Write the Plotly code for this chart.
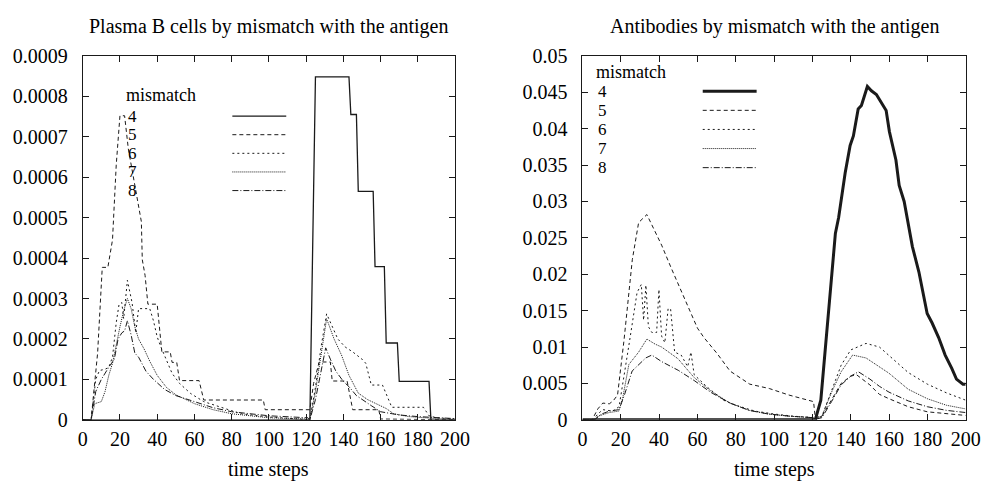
import plotly.graph_objects as go

# ---------------- data ----------------
x_ticks = [0, 20, 40, 60, 80, 100, 120, 140, 160, 180, 200]
left_y_ticks = [0, 0.0001, 0.0002, 0.0003, 0.0004, 0.0005, 0.0006, 0.0007, 0.0008, 0.0009]
left_y_labels = ["0", "0.0001", "0.0002", "0.0003", "0.0004", "0.0005", "0.0006", "0.0007", "0.0008", "0.0009"]
right_y_ticks = [0, 0.005, 0.01, 0.015, 0.02, 0.025, 0.03, 0.035, 0.04, 0.045, 0.05]
right_y_labels = ["0", "0.005", "0.01", "0.015", "0.02", "0.025", "0.03", "0.035", "0.04", "0.045", "0.05"]
mismatch_levels = ["4", "5", "6", "7", "8"]

left_title = "Plasma B cells by mismatch with the antigen"
right_title = "Antibodies by mismatch with the antigen"
x_label = "time steps"

# Plasma B cells (values x 1e-4)
plasma_t4 = [0, 122, 125, 143, 144, 147, 148, 156, 157, 162, 163, 169, 170, 186, 187, 200]
plasma_v4 = [0, 0, 8.48, 8.48, 7.55, 7.55, 5.65, 5.65, 3.79, 3.79, 1.9, 1.9, 0.95, 0.95, 0, 0]

plasma_t5 = [0, 4.5, 8, 10.5, 13.5, 16, 18, 20, 22.5, 24.5, 31.5, 32, 33.5, 35, 40, 41.5, 42.5, 47, 48, 50.5,
             52, 62.5, 65, 97, 98, 122, 124, 127, 133, 134, 142, 145, 159, 160, 200]
plasma_v5 = [0, 0, 1.65, 3.77, 3.77, 4.45, 6.3, 7.52, 7.52, 6.7, 4.9, 3.96, 3.57, 2.86, 2.86, 2.15, 1.68, 1.68, 1.42, 1.42,
             0.97, 0.97, 0.49, 0.49, 0.25, 0.25, 0.9, 1.43, 1.43, 0.96, 0.96, 0.25, 0.25, 0.02, 0]

plasma_t6 = [0, 4.5, 7, 9, 12, 14, 16, 18, 19.5, 21, 22, 24, 26.5, 28.5, 30, 36, 38, 40, 42, 45, 48, 52, 58, 65, 75, 85,
             100, 121, 122, 125, 128, 131, 134, 137, 141, 145, 150, 152, 155, 161, 166, 183, 186, 190, 200]
plasma_v6 = [0, 0, 1.0, 1.22, 1.25, 1.3, 1.55, 2.4, 2.85, 2.9, 2.5, 3.45, 2.9, 2.15, 2.75, 2.75, 2.45, 2.05, 1.8, 1.45,
             1.15, 0.9, 0.65, 0.45, 0.3, 0.15, 0.07, 0.02, 0, 0.8, 1.8, 2.62, 2.3, 2.0, 1.8, 1.68, 1.5, 1.4, 0.86, 0.86,
             0.31, 0.31, 0.1, 0.05, 0.02]

plasma_t7 = [0, 4.5, 6.5, 10, 12, 14, 16, 18, 20, 22, 24, 26, 28, 30, 33, 36, 40, 45, 50, 60, 70, 80, 100, 121, 122,
             125, 128, 131, 135, 139, 143, 148, 153, 158, 163, 167, 175, 190, 200]
plasma_v7 = [0, 0, 0.4, 0.45, 0.7, 1.1, 1.4, 1.9, 2.3, 2.7, 3.0, 2.75, 2.3, 2.0, 1.75, 1.45, 1.1, 0.8, 0.62, 0.4, 0.25,
             0.15, 0.05, 0.02, 0, 0.7, 1.6, 2.5, 2.0, 1.6, 1.1, 0.66, 0.5, 0.39, 0.28, 0.15, 0.08, 0.03, 0.01]

plasma_t8 = [0, 4.5, 7, 10, 14, 17, 19, 21, 22.5, 24, 26, 28, 30, 34, 38, 44, 50, 60, 70, 80, 100, 121, 122, 125, 128,
             130.5, 133, 136, 140, 143, 147, 150, 155, 160, 170, 180, 200]
plasma_v8 = [0, 0, 0.7, 1.0, 1.3, 1.5, 2.0, 2.15, 2.2, 2.45, 2.1, 1.65, 1.55, 1.2, 1.0, 0.75, 0.6, 0.45, 0.3, 0.2, 0.1,
             0.05, 0, 0.5, 1.2, 1.78, 1.5, 1.2, 0.95, 0.82, 0.6, 0.5, 0.35, 0.2, 0.12, 0.08, 0.03]

# Antibodies (values x 1e-3)
anti_t4 = [0, 121.5, 124.4, 127.8, 129.5, 132, 133.7, 136.3, 137.1, 139.7, 141.4, 143.9, 145.6, 148.7, 150.8, 153.4,
           155.9, 158.5, 160.2, 163.6, 165.3, 167.9, 172.2, 175.6, 179.9, 182.5, 185.9, 189.3, 192.7, 195.2, 198.6, 200]
anti_v4 = [0, 0, 2.7, 13.3, 17.7, 25.6, 27.8, 33.0, 33.9, 37.7, 39.0, 42.7, 43.2, 45.8, 45.2, 44.7,
           43.6, 42.5, 39.6, 35.7, 32.2, 30.0, 23.8, 20.3, 14.6, 13.3, 11.3, 8.9, 7.1, 5.6, 4.9, 4.9]

anti_t5 = [0, 5, 8, 10.6, 14, 16, 18.3, 21.7, 26, 29.3, 33.6, 36.2, 41.3, 46.4, 53.2, 60, 63.4, 70.3, 77, 87.3, 97.5,
           107.8, 120.6, 121.5, 125, 130, 135, 140, 143, 146, 150, 153, 155, 160, 170, 180, 190, 200]
anti_v5 = [0, 0, 1.5, 2.3, 2.2, 2.6, 3.4, 11.0, 22.0, 27.1, 28.2, 26.7, 24.0, 20.8, 16.8, 12.6, 11.3, 9.1, 6.7, 4.9, 4.3,
           3.4, 2.5, 0.3, 0.5, 2.8, 5.0, 6.0, 6.2, 5.6, 4.8, 4.0, 3.5, 2.9, 1.8, 1.1, 0.8, 0.6]

anti_t6 = [0, 5.5, 8, 10.6, 15.7, 19.1, 24.2, 28.5, 30.7, 31.9, 33.1, 34.4, 36.2, 38.7, 39.9, 41.3, 43, 44.7, 46, 48.1,
           51.5, 54.9, 56.6, 58.3, 65.1, 73.6, 80, 90, 100, 110, 121, 122, 125, 130, 135, 140, 148, 155, 160, 170, 180,
           190, 200]
anti_v6 = [0, 0, 0.8, 1.4, 1.2, 1.8, 10.2, 17.5, 18.6, 13.7, 18.5, 12.8, 12.0, 12.0, 17.9, 11.5, 10.6, 15.3, 15.2, 9.3,
           8.9, 7.3, 9.3, 6.2, 4.5, 2.7, 2.0, 1.2, 0.8, 0.5, 0.3, 0.1, 0.5, 4.0, 7.5, 9.6, 10.5, 10.0, 8.8, 6.5, 4.9,
           3.7, 2.7]

anti_t7 = [0, 6, 8, 14, 19, 21, 24.2, 29.3, 33.6, 37.9, 41.3, 49.8, 58.3, 66.8, 77, 87, 97, 108, 120, 122, 125, 130,
           135, 141, 148, 155, 160, 170, 180, 190, 200]
anti_v7 = [0, 0, 0.5, 1.0, 1.2, 3.0, 7.6, 9.3, 11.1, 10.4, 10.0, 8.4, 5.8, 4.0, 2.3, 1.3, 0.8, 0.5, 0.3, 0.1, 0.5, 3.8,
           6.6, 8.9, 8.5, 7.3, 6.4, 4.2, 2.9, 2.0, 1.5]

anti_t8 = [0, 6.3, 10, 14, 19.1, 22, 25.9, 29.3, 33, 36.2, 41.3, 50, 58.3, 66.8, 77, 87, 97, 108, 120, 122, 125, 130,
           135, 140, 144, 150, 155, 160, 170, 180, 190, 200]
anti_v8 = [0, 0, 0.8, 1.2, 1.4, 3.5, 6.7, 7.6, 8.5, 8.9, 8.0, 6.8, 5.4, 3.8, 2.3, 1.3, 0.8, 0.5, 0.3, 0.1, 0.3, 2.5,
           4.8, 6.0, 6.6, 5.6, 4.6, 3.8, 2.6, 1.8, 1.3, 1.0]

# ---------------- styling ----------------
W, H = 998, 491
FONT = "Liberation Serif"
FS = 20
FS_KEY = 17
INK = "#1a1a1a"
dashes = ["solid", "4px,3px", "2px,3px", "1px,1px", "6px,2px,1px,2px"]
left_widths = [1.3, 1, 1, 1, 1]
right_widths = [3, 1, 1, 1, 1]

# plot frames in pixels
LX0, LX1 = 79.3, 459.3
RX0, RX1 = 589.3, 980.3
YT, YB = 47, 428


def px(x):
    return x / W


def py(y):
    return 1 - y / H


fig = go.Figure()

plasma_t = [plasma_t4, plasma_t5, plasma_t6, plasma_t7, plasma_t8]
plasma_v = [plasma_v4, plasma_v5, plasma_v6, plasma_v7, plasma_v8]
anti_t = [anti_t4, anti_t5, anti_t6, anti_t7, anti_t8]
anti_v = [anti_v4, anti_v5, anti_v6, anti_v7, anti_v8]

for i, m in enumerate(mismatch_levels):
    fig.add_trace(go.Scatter(x=plasma_t[i], y=[v * 1e-4 for v in plasma_v[i]], mode="lines",
                             line=dict(color=INK, width=left_widths[i], dash=dashes[i]),
                             name=m, showlegend=False, xaxis="x", yaxis="y"))
for i, m in enumerate(mismatch_levels):
    fig.add_trace(go.Scatter(x=anti_t[i], y=[v * 1e-3 for v in anti_v[i]], mode="lines",
                             line=dict(color=INK, width=right_widths[i], dash=dashes[i]),
                             name=m, showlegend=False, xaxis="x2", yaxis="y2"))

axis_common = dict(showline=True, linecolor=INK, linewidth=1, mirror="ticks", ticks="inside",
                   ticklen=6, tickcolor=INK, tickwidth=1, showgrid=False, zeroline=False,
                   tickfont=dict(family=FONT, size=FS, color="black"))

fig.update_layout(
    width=W, height=H, margin=dict(l=0, r=0, t=0, b=0),
    paper_bgcolor="white", plot_bgcolor="white",
    xaxis=dict(domain=[px(LX0), px(LX1)], range=[0, 200], tickvals=x_ticks, ticklabelstandoff=1,
               anchor="y", **axis_common),
    yaxis=dict(domain=[py(YB), py(YT)], range=[0, 0.0009], tickvals=left_y_ticks, ticktext=left_y_labels,
               ticklabelstandoff=10, anchor="x", **axis_common),
    xaxis2=dict(domain=[px(RX0), px(RX1)], range=[0, 200], tickvals=x_ticks, ticklabelstandoff=1,
                anchor="y2", **axis_common),
    yaxis2=dict(domain=[py(YB), py(YT)], range=[0, 0.05], tickvals=right_y_ticks, ticktext=right_y_labels,
                ticklabelstandoff=10, anchor="x2", **axis_common),
    showlegend=False,
)

annotations = []
shapes = []
# titles and axis labels
for cx, title in [((LX0 + LX1) / 2, left_title), ((RX0 + RX1) / 2, right_title)]:
    annotations.append(dict(x=px(cx), y=py(16), xref="paper", yref="paper", text=title, showarrow=False,
                            xanchor="center", yanchor="middle", font=dict(family=FONT, size=FS, color="black")))
    annotations.append(dict(x=px(cx), y=py(480), xref="paper", yref="paper", text=x_label, showarrow=False,
                            xanchor="center", yanchor="middle", font=dict(family=FONT, size=FS, color="black")))

# gnuplot-style keys
keys = [
    dict(tx=122, title_y=88, rows=[110, 129.5, 149, 168.5, 188], sx0=232, sx1=287, widths=left_widths),
    dict(tx=602, title_y=64, rows=[84, 104, 124, 144, 164], sx0=712, sx1=767, widths=right_widths),
]
for k in keys:
    annotations.append(dict(x=px(k["tx"]), y=py(k["title_y"]), xref="paper", yref="paper", text="mismatch",
                            showarrow=False, xanchor="left", yanchor="middle", borderpad=0,
                            font=dict(family=FONT, size=FS_KEY + 1, color="black")))
    for i, m in enumerate(mismatch_levels):
        yy = k["rows"][i]
        annotations.append(dict(x=px(k["tx"] + 2), y=py(yy), xref="paper", yref="paper", text=m,
                                showarrow=False, xanchor="left", yanchor="middle", borderpad=0,
                                font=dict(family=FONT, size=FS_KEY, color="black")))
        shapes.append(dict(type="line", xref="paper", yref="paper", x0=px(k["sx0"]), x1=px(k["sx1"]),
                           y0=py(yy), y1=py(yy),
                           line=dict(color=INK, width=k["widths"][i], dash=dashes[i])))

fig.update_layout(annotations=annotations, shapes=shapes)
fig.write_html("out.html")
